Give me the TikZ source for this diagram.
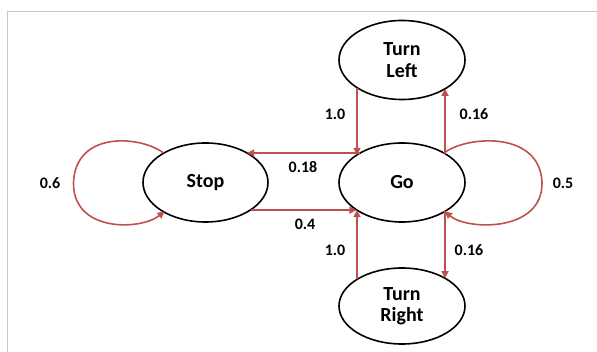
\documentclass[tikz,border=0pt]{standalone}
\usepackage{fontspec}
\setmainfont{Carlito}
\usetikzlibrary{shapes.geometric,arrows.meta,calc}
\definecolor{arrred}{RGB}{192,80,77}
\begin{document}
\begin{tikzpicture}[x=1pt,y=-1pt,
  state/.style={ellipse,draw=black,line width=1.6pt,minimum width=126pt,minimum height=79pt,inner sep=0pt,align=center,font=\bfseries\fontsize{20}{21.5}\selectfont},
  arr/.style={draw=arrred,line width=1.6pt,-{Triangle[length=7pt,width=7pt]}},
  lbl/.style={font=\bfseries\fontsize{16}{18}\selectfont,inner sep=0pt}]
\useasboundingbox (0,0) rectangle (597,352);
\draw[gray!45,line width=1pt] (7,352) -- (7,12) -- (597,12);
\node[state] (TL) at (402,60) {Turn\\Left};
\node[state] (Go) at (402,182.5) {Go};
\node[state,minimum width=125pt] (Stop) at (205.5,182.5) {Stop};
\node[state,minimum height=76pt] (TR) at (402,306) {Turn\\Right};
% vertical arrows
\draw[arr] ($(TL)+(-45,27.6)$) -- ($(Go)+(-45,-27.6)$);
\draw[arr] ($(Go)+(43,-28.9)$) -- ($(TL)+(43,28.9)$);
\draw[arr] ($(TR)+(-45,-26.6)$) -- ($(Go)+(-45,27.6)$);
\draw[arr] ($(Go)+(43,28.9)$) -- ($(TR)+(43,-27.8)$);
% horizontal arrows
\draw[arr] ($(Go)+(-42,-29.5)$) -- ($(Stop)+(41.6,-29.5)$);
\draw[arr] ($(Stop)+(45.2,27.6)$) -- ($(Go)+(-45.6,27.6)$);
% loops
\draw[arr] ($(Stop)+(-42,-29.5)$) .. controls ($(Stop)+(-65,-47)$) and ($(Stop)+(-130,-52)$) .. ($(Stop)+(-132,0)$) .. controls ($(Stop)+(-133,50)$) and ($(Stop)+(-65,48)$) .. ($(Stop)+(-41,29)$);
\draw[arr] ($(Go)+(42,-29.5)$) .. controls ($(Go)+(65,-47)$) and ($(Go)+(138,-52)$) .. ($(Go)+(140,0)$) .. controls ($(Go)+(141,50)$) and ($(Go)+(65,48)$) .. ($(Go)+(43,29)$);
% labels
\node[lbl] (l1) at (335,114) {1.0};
\node[lbl] (l2) at (474,114) {0.16};
\node[lbl] (l3) at (303,167) {0.18};
\node[lbl] (l4) at (305,224) {0.4};
\node[lbl] (l5) at (335,250) {1.0};
\node[lbl] (l6) at (469,250) {0.16};
\node[lbl] (l7) at (50,183) {0.6};
\node[lbl] (l8) at (563,183) {0.5};
\end{tikzpicture}
\end{document}
